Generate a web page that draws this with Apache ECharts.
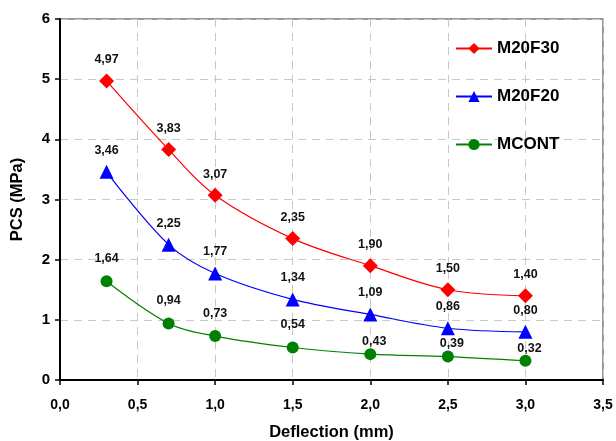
<!DOCTYPE html>
<html>
<head>
<meta charset="utf-8">
<script src="https://cdn.jsdelivr.net/npm/echarts@6/dist/echarts.min.js"></script>
<style>html,body{margin:0;padding:0;background:#fff}#c{width:616px;height:441px}</style>
</head>
<body>
<div id="c"></div>
<script>
var deflection = [0.3, 0.7, 1.0, 1.5, 2.0, 2.5, 3.0];
var m20f30 = [4.97, 3.83, 3.07, 2.35, 1.90, 1.50, 1.40];
var m20f20 = [3.46, 2.25, 1.77, 1.34, 1.09, 0.86, 0.80];
var mcont = [1.64, 0.94, 0.73, 0.54, 0.43, 0.39, 0.32];
var seriesNames = ['M20F30', 'M20F20', 'MCONT'];

var FONT = '"Liberation Sans", Arial, sans-serif';
function pairs(ys) { return deflection.map(function (x, i) { return [x, ys[i]]; }); }
function comma(v, d) { return v.toFixed(d).replace('.', ','); }

function mk(name, ys, color, symbol, size, dist) {
  return {
    name: name, type: 'line', data: pairs(ys), smooth: 0.35,
    symbol: symbol, symbolSize: size,
    lineStyle: { color: color, width: 1.2 },
    itemStyle: { color: color },
    label: {
      show: true, position: 'top', distance: dist,
      fontFamily: FONT, fontWeight: 'bold', fontSize: 12.5, color: '#111',
      formatter: function (p) { return comma(p.value[1], 2); }
    },
    z: 5
  };
}

var s3 = mk(seriesNames[2], mcont, '#008000', 'circle', 12, 10);
s3.labelLayout = function (p) {
  // right-hand labels of the lowest curve sit closer to their points
  if (p.dataIndex >= 4) return { dx: 4, dy: 10 };
  return {};
};

var chart = echarts.init(document.getElementById('c'), null, { renderer: 'canvas' });
chart.setOption({
  animation: false,
  backgroundColor: '#fff',
  grid: { left: 60, right: 13, top: 19, bottom: 61, show: true, borderColor: '#777', borderWidth: 1.5,
    containLabel: false, outerBoundsMode: 'none' },
  legend: {
    orient: 'vertical', left: 450, top: 35, itemGap: 31,
    itemWidth: 36, itemHeight: 14,
    data: seriesNames,
    textStyle: { fontFamily: FONT, fontWeight: 'bold', fontSize: 17, color: '#000' }
  },
  xAxis: {
    type: 'value', min: 0, max: 3.5, interval: 0.5,
    name: 'Deflection (mm)', nameLocation: 'middle', nameGap: 44,
    nameTextStyle: { fontFamily: FONT, fontWeight: 'bold', fontSize: 16.5, color: '#000' },
    axisLine: { lineStyle: { color: '#000', width: 2 } },
    axisTick: { show: true, length: 5, lineStyle: { color: '#000', width: 1.5 } },
    axisLabel: { fontFamily: FONT, fontWeight: 'bold', fontSize: 14, color: '#000', margin: 18,
      formatter: function (v) { return comma(v, 1); } },
    splitLine: { show: true, lineStyle: { color: '#c8c8c8', type: [8, 6], width: 1 } }
  },
  yAxis: {
    type: 'value', min: 0, max: 6, interval: 1,
    name: 'PCS (MPa)', nameLocation: 'middle', nameGap: 34, nameRotate: 90,
    nameTextStyle: { fontFamily: FONT, fontWeight: 'bold', fontSize: 16.5, color: '#000' },
    axisLine: { show: true, lineStyle: { color: '#000', width: 2 } },
    axisTick: { show: true, length: 5, lineStyle: { color: '#000', width: 1.5 } },
    axisLabel: { fontFamily: FONT, fontWeight: 'bold', fontSize: 15, color: '#000', margin: 10 },
    splitLine: { show: true, lineStyle: { color: '#c8c8c8', type: [8, 6], width: 1 } }
  },
  series: [
    mk(seriesNames[0], m20f30, '#ff0000', 'diamond', 15, 7),
    mk(seriesNames[1], m20f20, '#0000ff', 'triangle', 14, 8),
    s3
  ]
});
</script>
</body>
</html>
